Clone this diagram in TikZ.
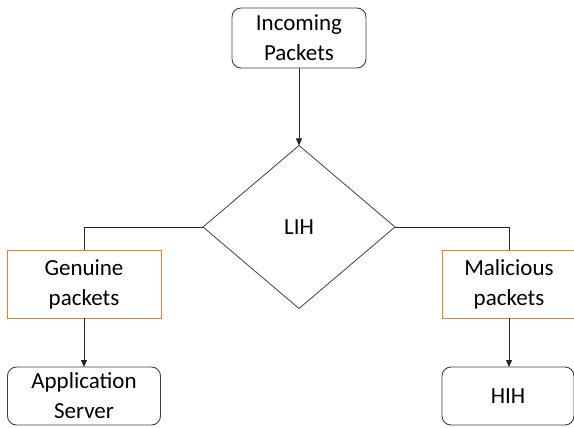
\documentclass[tikz,border=0pt]{standalone}
\usepackage{fontspec}
\setmainfont{Carlito}
\usepackage{tikz}
\usetikzlibrary{shapes.geometric,arrows.meta}
\definecolor{boxgray}{HTML}{404040}
\definecolor{boxorange}{HTML}{ED7D31}

\begin{document}
\begin{tikzpicture}[x=1pt,y=-1pt,
  every node/.style={font=\fontsize{23}{30}\selectfont, align=center, outer sep=0pt},
  roundbox/.style={draw=boxgray, line width=0.9pt, rounded corners=9pt, inner sep=0pt},
  typebox/.style={draw=boxorange, line width=0.9pt, inner sep=0pt, minimum width=154pt, minimum height=68pt},
  link/.style={draw=boxgray!60!black, line width=0.8pt},
  arrow/.style={link, -{Triangle[width=6pt,length=7pt]}}]
\useasboundingbox (0,0) rectangle (574,428);
\node [roundbox, minimum width=134pt, minimum height=60pt] (in) at (299,38) {Incoming\\Packets};
\node [diamond, draw=boxgray, line width=0.8pt, minimum width=192pt, minimum height=163pt, inner sep=0pt] (lih) at (299,227) {LIH};
\node [typebox] (gen) at (84,284) {Genuine\\packets};
\node [typebox, minimum width=134pt] (mal) at (509,284) {Malicious\\packets};
\node [roundbox, minimum width=153pt, minimum height=58pt] (app) at (84,396) {Application\\Server};
\node [roundbox, minimum width=132pt, minimum height=58pt] (hih) at (508,396) {HIH};
\draw [arrow] (in.south -| lih.north) -- (lih.north);
\draw [link] (lih.west) -| (gen.north);
\draw [link] (lih.east) -| (mal.north);
\draw [arrow] (gen.south) -- (app.north);
\draw [arrow] (mal.south) -- (mal.south |- hih.north);
\end{tikzpicture}
\end{document}
